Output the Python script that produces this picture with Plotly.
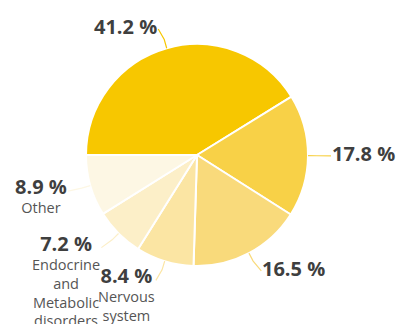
import math
import plotly.graph_objects as go

# ---- data ----
values = [41.2, 17.8, 16.5, 8.4, 7.2, 8.9]
names = ["", "", "", "Nervous<br>system", "Endocrine<br>and<br>Metabolic<br>disorders", "Other"]
colors = ["#F7C700", "#F8D147", "#F9DA7B", "#FBE5A3", "#FCEFC8", "#FDF7E4"]

W, H = 396, 324
cx, cy, R = 197, 155, 111
FONT = "Open Sans"

fig = go.Figure(go.Pie(
    values=values,
    labels=[f"s{i}" for i in range(len(values))],
    sort=False,
    direction="clockwise",
    rotation=270,
    marker=dict(colors=colors, line=dict(color="white", width=2)),
    textinfo="none",
    hoverinfo="skip",
    showlegend=False,
    domain=dict(x=[(cx - R) / W, (cx + R) / W], y=[1 - (cy + R) / H, 1 - (cy - R) / H]),
))

def px2paper(x, y):
    return x / W, 1 - y / H

annotations = []
shapes = []
total = sum(values)
cum = 0.0
for v, name, col in zip(values, names, colors):
    start = 270 + cum / total * 360
    cum += v
    mid = start + v / total * 360 / 2
    a = math.radians(mid)
    sx, sy = math.sin(a), -math.cos(a)
    ex, ey = cx + R * sx, cy + R * sy
    bx, by = cx + (R + 9) * sx, cy + (R + 9) * sy
    lx, ly = cx + (R + 20) * sx, cy + (R + 20) * sy
    right = sx >= 0
    # connector
    cxe = lx + (3 if right else -3)
    p0 = px2paper(ex, ey)
    p1 = px2paper(bx, by)
    p2 = px2paper(cxe, ly)
    shapes.append(dict(type="path", xref="paper", yref="paper",
                       path=f"M{p0[0]},{p0[1]} L{p1[0]},{p1[1]} L{p2[0]},{p2[1]}",
                       line=dict(color=col, width=1.2)))
    pct = f"<span style='font-size:20px;font-weight:bold;color:#3f3f3f'>{v:.1f} %</span>"
    text = pct if not name else pct + "<br>" + name
    ax, ay = px2paper(lx + (2 if right else -2), ly)
    if name:
        annotations.append(dict(x=ax, y=ay, xref="paper", yref="paper", text=text,
                                showarrow=False, xanchor="left" if right else "right",
                                yanchor="top", yshift=20, align="center",
                                font=dict(family=FONT, size=14.5, color="#555555")))
    else:
        annotations.append(dict(x=ax, y=ay, xref="paper", yref="paper", text=text,
                                showarrow=False, xanchor="left" if right else "right",
                                yanchor="middle", yshift=2, align="center",
                                font=dict(family=FONT, size=14.5, color="#555555")))

fig.update_layout(
    width=W, height=H,
    margin=dict(l=0, r=0, t=0, b=0),
    paper_bgcolor="white", plot_bgcolor="white",
    annotations=annotations, shapes=shapes,
)
fig.write_html("out.html")
